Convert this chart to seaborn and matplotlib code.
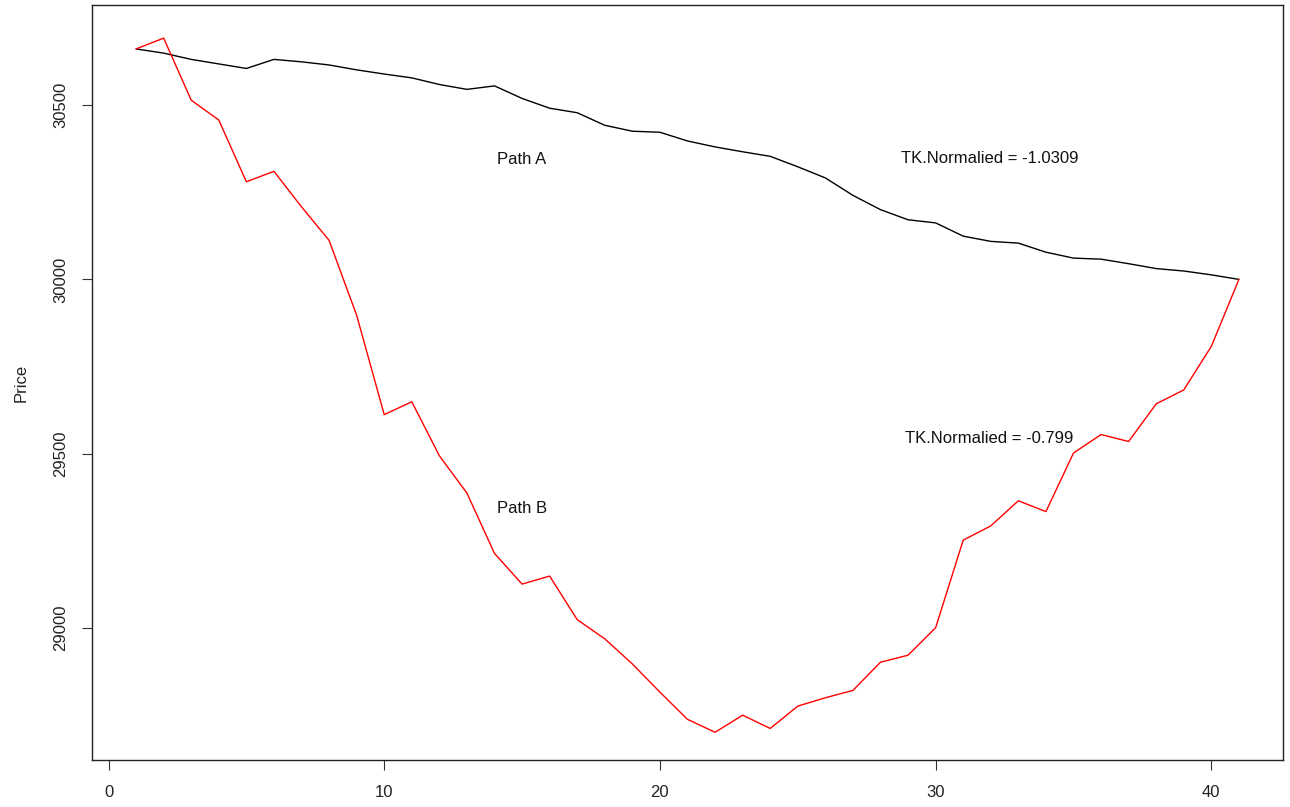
import numpy as np
import pandas as pd
import seaborn as sns
import matplotlib
matplotlib.use("Agg")
import matplotlib.pyplot as plt

# Price paths (steps 1..41)
steps = list(range(1, 42))
path_a = [30661, 30649, 30631, 30618, 30605, 30631, 30624, 30615, 30601, 30589,
          30578, 30559, 30545, 30555, 30519, 30491, 30478, 30442, 30425, 30422,
          30397, 30380, 30366, 30353, 30323, 30291, 30241, 30200, 30171, 30162,
          30124, 30109, 30104, 30078, 30061, 30058, 30045, 30031, 30024, 30013,
          30000]
path_b = [30661, 30692, 30514, 30457, 30280, 30310, 30208, 30112, 29897, 29612,
          29649, 29494, 29387, 29214, 29126, 29149, 29024, 28969, 28897, 28816,
          28738, 28701, 28750, 28712, 28776, 28800, 28821, 28902, 28922, 29001,
          29252, 29293, 29365, 29334, 29502, 29555, 29535, 29643, 29683, 29808,
          30000]
path_names = ["Path A", "Path B"]
path_colors = ["black", "red"]
tk_labels = ["TK.Normalied = -1.0309", "TK.Normalied = -0.799"]

x_ticks = [0, 10, 20, 30, 40]
y_ticks = [29000, 29500, 30000, 30500]

df = pd.DataFrame({
    "step": steps * 2,
    "price": path_a + path_b,
    "path": [path_names[0]] * len(steps) + [path_names[1]] * len(steps),
})

sns.set_style("white")
plt.rcParams["font.family"] = ["Liberation Sans", "DejaVu Sans"]

fig = plt.figure(figsize=(12.9, 8.07), dpi=100)
ax = fig.add_axes([0.0713, 0.0582, 0.9233, 0.9356])

sns.lineplot(data=df, x="step", y="price", hue="path",
             palette=dict(zip(path_names, path_colors)),
             linewidth=1.0, legend=False, ax=ax)

# R-style 4% axis extension
allp = path_a + path_b
xr = steps[-1] - steps[0]
yr = max(allp) - min(allp)
ax.set_xlim(steps[0] - 0.04 * xr, steps[-1] + 0.04 * xr)
ax.set_ylim(min(allp) - 0.04 * yr, 30787)

ax.text(15, 30344, path_names[0], ha="center", va="center", fontsize=12, color="#111111")
ax.text(15, 29343, path_names[1], ha="center", va="center", fontsize=12, color="#111111")
ax.text(31.95, 30347, tk_labels[0], ha="center", va="center", fontsize=12, color="#111111")
ax.text(31.95, 29544, tk_labels[1], ha="center", va="center", fontsize=12, color="#111111")

ax.set_xticks(x_ticks)
ax.set_yticks(y_ticks)
ax.set_xticklabels([str(t) for t in x_ticks])
ax.set_yticklabels([str(t) for t in y_ticks], rotation=90, va="center")
ax.tick_params(axis="both", direction="out", length=7, width=0.8,
               color="#333333", labelsize=12, labelcolor="#222222")
ax.tick_params(axis="x", pad=11, bottom=True)
ax.tick_params(axis="y", pad=10, left=True)

ax.set_xlabel("")
ax.set_ylabel("Price", fontsize=12, color="#222222", labelpad=18)
for s in ax.spines.values():
    s.set_color("#222222")
    s.set_linewidth(1.0)

fig.savefig("out.png", dpi=100)
